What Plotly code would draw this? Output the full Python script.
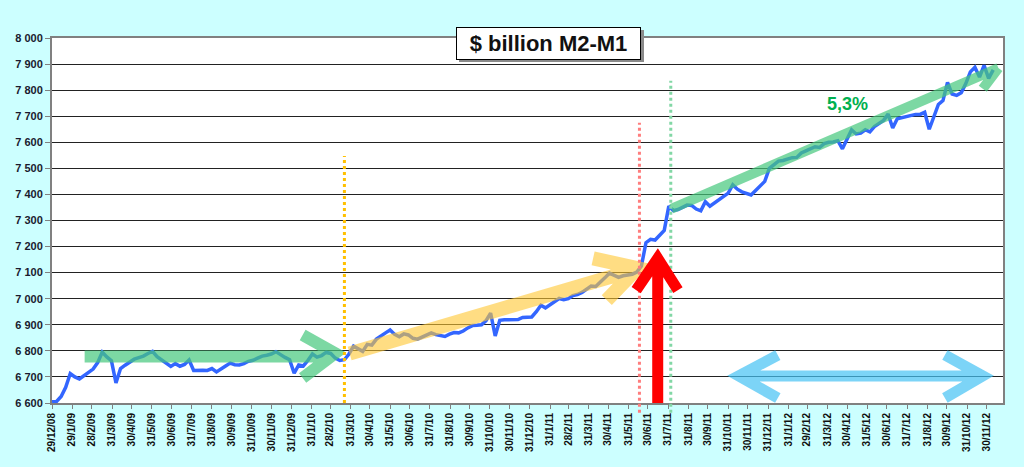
import pandas as pd
import plotly.graph_objects as go

# weekly M2-M1, $ billion, first week 29/12/08
start_date = "2008-12-29"
m2_m1 = [
    6605, 6606, 6625, 6660, 6713, 6700, 6692, 6705, 6718, 6730,
    6755, 6795, 6777, 6762, 6677, 6732, 6745, 6758, 6768, 6774,
    6780, 6790, 6798, 6778, 6766, 6755, 6740, 6751, 6741, 6748,
    6765, 6725, 6727, 6726, 6725, 6732, 6719, 6729, 6742, 6753,
    6747, 6746, 6751, 6760, 6764, 6772, 6780, 6783, 6788, 6797,
    6785, 6775, 6766, 6714, 6746, 6742, 6763, 6788, 6776, 6782,
    6794, 6790, 6772, 6763, 6766, 6788, 6818, 6807, 6798, 6825,
    6822, 6845, 6859, 6869, 6880, 6863, 6854, 6865, 6861, 6848,
    6845, 6853, 6862, 6869, 6862, 6859, 6855, 6864, 6870, 6869,
    6876, 6888, 6897, 6898, 6900, 6916, 6945, 6857, 6917, 6919,
    6919, 6917, 6920, 6928, 6930, 6930, 6950, 6975, 6965, 6977,
    6989, 7001, 6996, 7000, 7012, 7016, 7024, 7035, 7049, 7047,
    7062, 7080, 7098, 7089, 7082, 7088, 7091, 7094, 7102, 7125,
    7215, 7228, 7225, 7242, 7262, 7355, 7338, 7342, 7352, 7359,
    7358, 7344, 7337, 7372, 7355, 7368, 7383, 7394, 7405, 7437,
    7420, 7410, 7405, 7398, 7415, 7432, 7450, 7500, 7514, 7528,
    7530, 7537, 7541, 7542, 7559, 7567, 7574, 7583, 7580, 7595,
    7600, 7601, 7606, 7575, 7612, 7648, 7632, 7635, 7648, 7640,
    7660, 7673, 7684, 7708, 7655, 7690, 7694, 7700, 7705, 7707,
    7707, 7715, 7650, 7700, 7745, 7760, 7830, 7785, 7780, 7790,
    7825, 7870, 7888, 7850, 7895, 7845, 7878,
]

tick_labels = [
    "29/12/08", "29/1/09", "28/2/09", "31/3/09", "30/4/09", "31/5/09",
    "30/6/09", "31/7/09", "31/8/09", "30/9/09", "31/10/09", "30/11/09",
    "31/12/09", "31/1/10", "28/2/10", "31/3/10", "30/4/10", "31/5/10",
    "30/6/10", "31/7/10", "31/8/10", "30/9/10", "31/10/10", "30/11/10",
    "31/12/10", "31/1/11", "28/2/11", "31/3/11", "30/4/11", "31/5/11",
    "30/6/11", "31/7/11", "31/8/11", "30/9/11", "31/10/11", "30/11/11",
    "31/12/11", "31/1/12", "29/2/12", "31/3/12", "30/4/12", "31/5/12",
    "30/6/12", "31/7/12", "31/8/12", "30/9/12", "31/10/12", "30/11/12",
]

dates = pd.date_range(start_date, periods=len(m2_m1), freq="7D")
tick_dates = pd.to_datetime(tick_labels, format="%d/%m/%y")

fig = go.Figure()
fig.add_trace(go.Scatter(x=dates, y=m2_m1, mode="lines",
                         line=dict(color="#3366ff", width=3.5),
                         showlegend=False))

green = "rgb(70,200,125)"
yellow = "rgb(255,200,50)"

shapes = [
    # flat green band with arrow head
    dict(type="path", path="M2009-02-17,6778 L2010-02-28,6778 "
                           "M2010-01-17,6861 L2010-03-08,6791 L2010-01-17,6696",
         line=dict(color=green, width=12), opacity=0.7),
    # yellow trend arrow
    dict(type="path", path="M2010-03-30,6790 L2011-06-18,7117 "
                           "M2011-04-07,7155 L2011-06-14,7117 L2011-04-28,6995",
         line=dict(color=yellow, width=14), opacity=0.6),
    # green 5,3% trend arrow
    dict(type="path", path="M2011-08-05,7345 L2012-12-18,7885 "
                           "M2012-11-24,7805 L2012-12-18,7885",
         line=dict(color=green, width=10), opacity=0.7),
    # light blue double arrow
    dict(type="path", path="M2012-01-15,6784 L2011-11-16,6704 L2012-01-15,6619 "
                           "M2011-11-16,6704 L2012-11-24,6704 "
                           "M2012-09-27,6784 L2012-11-24,6704 L2012-09-27,6619",
         line=dict(color="rgb(70,195,245)", width=11), opacity=0.7),
    # dotted markers
    dict(type="line", xref="x", yref="paper", x0="2010-03-22", x1="2010-03-22",
         y0=0, y1=0.677, line=dict(color="#ffc000", width=3, dash="dot")),
    dict(type="line", xref="x", yref="paper", x0="2011-06-17", x1="2011-06-17",
         y0=-0.027, y1=0.768, line=dict(color="rgb(255,125,125)", width=3, dash="dot")),
    dict(type="line", xref="x", yref="paper", x0="2011-08-04", x1="2011-08-04",
         y0=-0.027, y1=0.883, line=dict(color="rgb(130,215,165)", width=3, dash="dot")),
    # red arrow
    dict(type="path", path="M2011-07-15,6590 L2011-07-15,7150 "
                           "M2011-06-12,7033 L2011-07-15,7155 L2011-08-15,7033",
         line=dict(color="#ff0000", width=11)),
    # title shadow
    dict(type="rect", xref="paper", yref="paper", x0=0.428, x1=0.6225,
         y0=0.934, y1=1.022, fillcolor="#8a8a8a", line=dict(width=0)),
]
fig.update_layout(shapes=shapes)

fig.add_annotation(xref="paper", yref="paper", x=0.522, y=0.986,
                   text="<b>$ billion M2-M1</b>", showarrow=False,
                   xanchor="center", yanchor="middle",
                   font=dict(size=22, color="#111111", family="Arial, Liberation Sans"),
                   bgcolor="white", bordercolor="black", borderwidth=1,
                   borderpad=2, width=179, height=27)
fig.add_annotation(x="2012-05-01", y=7747, text="<b>5,3%</b>", showarrow=False,
                   font=dict(size=18, color="rgb(0,176,80)", family="Arial, Liberation Sans"))

fig.update_xaxes(type="date", range=["2008-12-29", "2012-12-25"],
                 tickvals=tick_dates, ticktext=tick_labels, tickangle=-90,
                 tickfont=dict(size=10, color="#111111", weight="bold"),
                 ticks="outside", ticklen=4, tickcolor="#808080",
                 showgrid=False, showline=True, linecolor="#808080", linewidth=2,
                 mirror=True, automargin=False)
fig.update_yaxes(range=[6600, 8000], dtick=100, tickformat=",d",
                 tickfont=dict(size=11, color="#1a1a2e", weight="bold"),
                 ticks="outside", ticklen=5, tickcolor="#808080",
                 showgrid=True, gridcolor="#222222", gridwidth=1,
                 showline=True, linecolor="#808080", linewidth=2,
                 mirror=True, zeroline=False, automargin=False)

fig.update_layout(width=1024, height=467,
                  margin=dict(l=52, r=21, t=38, b=64),
                  paper_bgcolor="#ccffff", plot_bgcolor="white",
                  separators=", ",
                  font=dict(family="Arial, Liberation Sans"))

# drop the default page margin so the figure fills the window
fig.write_html("out.html", config={"displayModeBar": False},
               post_script="document.body.style.margin='0';"
                           "document.body.style.background='#ccffff';")
